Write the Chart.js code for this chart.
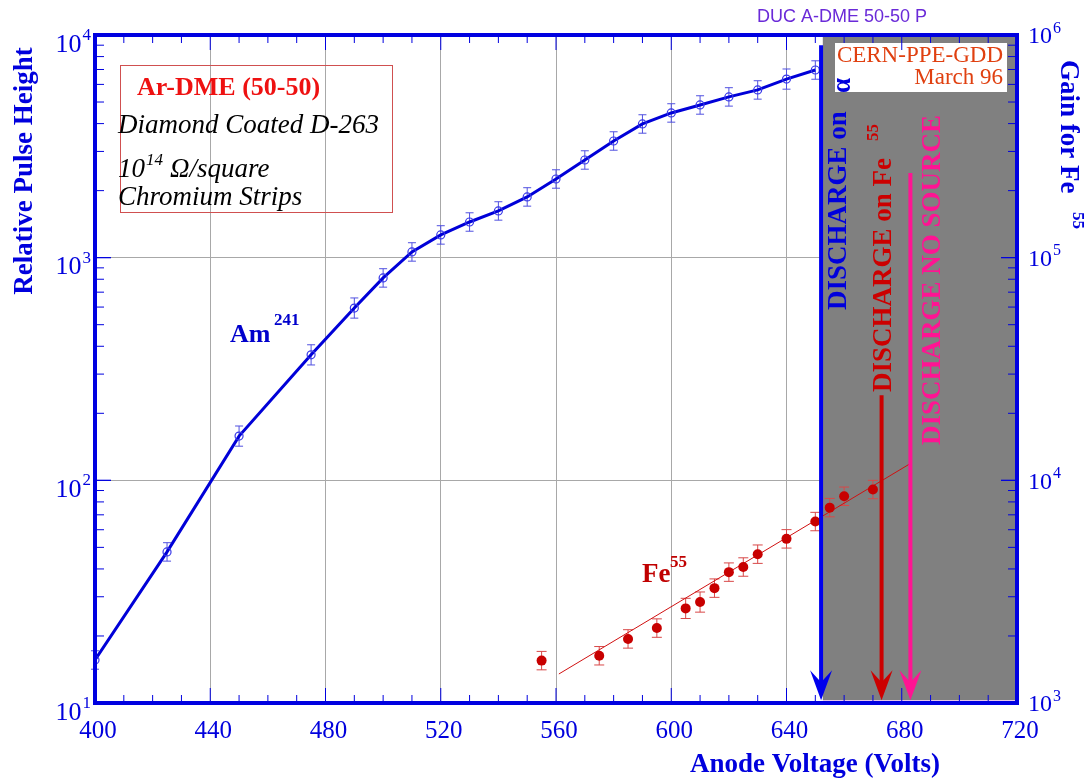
<!DOCTYPE html>
<html>
<head>
<meta charset="utf-8">
<script src="https://cdn.jsdelivr.net/npm/chart.js@4.4.1/dist/chart.umd.min.js"></script>
<style>
  body { margin: 0; background: #fff; }
  #wrap { width: 1088px; height: 778px; }
</style>
</head>
<body>
<div id="wrap"><canvas id="chart"></canvas></div>
<script>
// Am241 relative pulse height
const amVolts = [400, 425, 450, 475, 490, 500, 510, 520, 530, 540, 550, 560, 570, 580, 590, 600, 610, 620, 630, 640, 650];
const amHeight = [15.6, 47.7, 158, 366, 594, 811, 1061, 1265, 1446, 1621, 1874, 2256, 2746, 3342, 3985, 4466, 4850, 5272, 5666, 6339, 6962];
const amErr = [0.1, 0.1, 0.11, 0.11, 0.11, 0.1, 0.1, 0.1, 0.1, 0.1, 0.1, 0.1, 0.1, 0.1, 0.1, 0.1, 0.1, 0.1, 0.1, 0.11, 0.1]; // relative

// Fe55 points (same scale as left axis)
const feVolts = [555, 575, 585, 595, 605, 610, 615, 620, 625, 630, 640, 650, 655, 660, 670];
const feHeight = [15.5, 16.3, 19.4, 21.7, 26.6, 28.4, 32.8, 38.7, 40.8, 46.6, 54.6, 65.3, 75.4, 84.8, 90.9];
const feErr = [0.1, 0.1, 0.1, 0.1, 0.11, 0.11, 0.1, 0.1, 0.1, 0.1, 0.1, 0.1, 0.1, 0.1, 0.1];

// straight fit through Fe55
const fitVolts = [561, 683];
const fitHeight = [13.5, 119];

// axis labels
const xTicks = [400, 440, 480, 520, 560, 600, 640, 680, 720];
const yDecades = [10, 100, 1000, 10000];
const leftExp = ["1", "2", "3", "4"];
const rightExp = ["3", "4", "5", "6"];

// discharge arrows: alpha, Fe55, no source
const dischargeVolts = [652, 673, 683];
const dischargeTop = [9000, 241, 2400];
const dischargeTip = 10.3;
const grayFrom = 652.6;

const BLUE = "#0000dd";
const SERIF = "'Liberation Serif', 'Times New Roman', serif";

function pts(xs, ys) {
  return xs.map((v, i) => ({ x: v, y: ys[i] }));
}

function drawErrors(ctx, x, y, xs, ys, errs, color, cap) {
  ctx.strokeStyle = color;
  ctx.lineWidth = 1;
  xs.forEach((v, i) => {
    const px = x.getPixelForValue(v);
    const lo = y.getPixelForValue(ys[i] / (1 + errs[i]));
    const hi = y.getPixelForValue(ys[i] * (1 + errs[i]));
    ctx.beginPath();
    ctx.moveTo(px, lo); ctx.lineTo(px, hi);
    ctx.moveTo(px - cap, lo); ctx.lineTo(px + cap, lo);
    ctx.moveTo(px - cap, hi); ctx.lineTo(px + cap, hi);
    ctx.stroke();
  });
}

function rotText(ctx, text, x, y, angle, font, color, align) {
  ctx.save();
  ctx.translate(x, y);
  ctx.rotate(angle);
  ctx.font = font;
  ctx.fillStyle = color;
  ctx.textAlign = align;
  ctx.textBaseline = "middle";
  ctx.fillText(text, 0, 0);
  ctx.restore();
}

// "10" with exponent
function powLabel(ctx, exp, x, y, size, align) {
  ctx.font = size + "px " + SERIF;
  const w1 = ctx.measureText("10").width;
  ctx.font = Math.round(size * 0.65) + "px " + SERIF;
  const w2 = ctx.measureText(exp).width;
  const left = align === "right" ? x - w1 - w2 - 1 : x;
  ctx.textAlign = "left";
  ctx.textBaseline = "middle";
  ctx.fillStyle = BLUE;
  ctx.font = size + "px " + SERIF;
  ctx.fillText("10", left, y);
  ctx.font = Math.round(size * 0.65) + "px " + SERIF;
  ctx.fillText(exp, left + w1 + 1, y - size * 0.36);
}

function arrow(ctx, px, top, tip, color) {
  ctx.strokeStyle = color;
  ctx.fillStyle = color;
  ctx.lineWidth = 4;
  ctx.beginPath();
  ctx.moveTo(px, top);
  ctx.lineTo(px, tip - 16);
  ctx.stroke();
  ctx.beginPath();
  ctx.moveTo(px, tip);
  ctx.lineTo(px - 11, tip - 30);
  ctx.lineTo(px, tip - 18);
  ctx.lineTo(px + 11, tip - 30);
  ctx.closePath();
  ctx.fill();
}

const decor = {
  id: "decor",
  beforeDatasetsDraw(chart) {
    const { ctx, chartArea: a, scales: { x, y } } = chart;
    ctx.save();
    // discharge zone
    const gx = x.getPixelForValue(grayFrom);
    ctx.fillStyle = "#808080";
    ctx.fillRect(gx, a.top, a.right - gx, a.bottom - a.top - 3);
    ctx.fillStyle = "#e8c8e8";
    ctx.fillRect(gx, a.bottom - 3, a.right - gx, 1);
    drawErrors(ctx, x, y, amVolts, amHeight, amErr, "#5050e0", 4);
    drawErrors(ctx, x, y, feVolts, feHeight, feErr, "#d84848", 5);
    ctx.restore();
  },
  afterDatasetsDraw(chart) {
    const { ctx, chartArea: a, scales: { x, y } } = chart;
    ctx.save();

    // arrows
    const arrowColors = ["#0000ee", "#cc0000", "#ff1493"];
    dischargeVolts.forEach((v, i) => {
      arrow(ctx, x.getPixelForValue(v), y.getPixelForValue(dischargeTop[i]), y.getPixelForValue(dischargeTip), arrowColors[i]);
    });

    // CERN box
    ctx.fillStyle = "#fff";
    ctx.fillRect(835, 43, 172, 49);
    ctx.fillStyle = "#e04010";
    ctx.font = "23px " + SERIF;
    ctx.textAlign = "right";
    ctx.textBaseline = "alphabetic";
    ctx.fillText("CERN-PPE-GDD", 1003, 62);
    ctx.fillText("March 96", 1003, 84);

    // discharge texts
    const bfont = "bold 27px " + SERIF;
    rotText(ctx, "DISCHARGE on", 839, 310, -Math.PI / 2, bfont, "#0000dd", "left");
    rotText(ctx, "\u03b1", 843, 93, -Math.PI / 2, bfont, "#0000dd", "left");
    rotText(ctx, "DISCHARGE on Fe", 884, 392, -Math.PI / 2, bfont, "#cc0000", "left");
    rotText(ctx, "55", 874, 141, -Math.PI / 2, "bold 17px " + SERIF, "#cc0000", "left");
    rotText(ctx, "DISCHARGE NO SOURCE", 933, 445, -Math.PI / 2, bfont, "#ff1493", "left");

    // frame
    ctx.strokeStyle = "#0000e0";
    ctx.lineWidth = 4;
    ctx.strokeRect(a.left, a.top, a.right - a.left, a.bottom - a.top);

    // ticks
    ctx.lineWidth = 1;
    ctx.beginPath();
    for (let v = 400; v <= 720; v += 10) {
      const px = x.getPixelForValue(v);
      const len = v % 40 === 0 ? 15 : 8;
      ctx.moveTo(px, a.bottom); ctx.lineTo(px, a.bottom - len);
      ctx.moveTo(px, a.top); ctx.lineTo(px, a.top + len);
    }
    [10, 100, 1000].forEach((d) => {
      for (let m = 1; m <= 10; m++) {
        const py = y.getPixelForValue(d * m);
        const len = m === 1 || m === 10 ? 16 : 9;
        ctx.moveTo(a.left, py); ctx.lineTo(a.left + len, py);
        ctx.moveTo(a.right, py); ctx.lineTo(a.right - len, py);
      }
    });
    ctx.stroke();

    // tick labels
    ctx.fillStyle = BLUE;
    ctx.font = "25px " + SERIF;
    ctx.textAlign = "center";
    ctx.textBaseline = "middle";
    xTicks.forEach((v) => ctx.fillText(String(v), x.getPixelForValue(v) + 3, 731));
    yDecades.forEach((d, i) => {
      const py = y.getPixelForValue(d);
      powLabel(ctx, leftExp[i], 91, py + 10, 26, "right");
      powLabel(ctx, rightExp[i], 1028, py + 2, 24, "left");
    });

    // axis titles
    rotText(ctx, "Relative Pulse Height", 25, 171, -Math.PI / 2, bfont, BLUE, "center");
    rotText(ctx, "Gain for Fe", 1068, 60, Math.PI / 2, bfont, BLUE, "left");
    rotText(ctx, "55", 1077, 212, Math.PI / 2, "bold 17px " + SERIF, BLUE, "left");
    ctx.font = bfont;
    ctx.textAlign = "right";
    ctx.textBaseline = "alphabetic";
    ctx.fillStyle = BLUE;
    ctx.fillText("Anode Voltage (Volts)", 940, 772);

    // top label
    ctx.font = "18px 'Liberation Sans', Arial, sans-serif";
    ctx.fillStyle = "#6a2ad8";
    ctx.textAlign = "left";
    ctx.fillText("DUC A-DME 50-50 P", 757, 22);

    // curve labels
    ctx.font = "bold 26px " + SERIF;
    ctx.fillStyle = "#0000cc";
    ctx.fillText("Am", 230, 342);
    ctx.font = "bold 17px " + SERIF;
    ctx.fillText("241", 274, 325);
    ctx.font = "bold 27px " + SERIF;
    ctx.fillStyle = "#c00000";
    ctx.fillText("Fe", 642, 582);
    ctx.font = "bold 17px " + SERIF;
    ctx.fillText("55", 670, 567);

    // info box
    ctx.strokeStyle = "#d05050";
    ctx.lineWidth = 1;
    ctx.strokeRect(120.5, 65.5, 272, 147);
    ctx.fillStyle = "#ee1111";
    ctx.font = "bold 26px " + SERIF;
    ctx.fillText("Ar-DME (50-50)", 137, 95);
    ctx.fillStyle = "#000";
    ctx.font = "italic 27px " + SERIF;
    ctx.fillText("Diamond Coated D-263", 118, 133);
    ctx.fillText("10", 118, 177);
    const w10 = ctx.measureText("10").width;
    ctx.fillText("\u03a9/square", 170, 177);
    ctx.fillText("Chromium Strips", 118, 205);
    ctx.font = "italic 17px " + SERIF;
    ctx.fillText("14", 118 + w10 + 1, 165);

    ctx.restore();
  }
};

const ctx = document.getElementById("chart").getContext("2d");
new Chart(ctx, {
  type: "line",
  data: {
    datasets: [
      {
        label: "Am241",
        data: pts(amVolts, amHeight),
        borderColor: "#0000d8",
        borderWidth: 3,
        tension: 0,
        pointRadius: 4,
        pointBorderWidth: 1.2,
        pointBorderColor: "#3838e8",
        pointBackgroundColor: "rgba(255,255,255,0)"
      },
      {
        label: "Fe55",
        data: pts(feVolts, feHeight),
        showLine: false,
        pointRadius: 5,
        pointBorderWidth: 0,
        pointBackgroundColor: "#c80000",
        pointBorderColor: "#c80000"
      },
      {
        label: "Fe55 fit",
        data: pts(fitVolts, fitHeight),
        borderColor: "#d01010",
        borderWidth: 1,
        pointRadius: 0
      }
    ]
  },
  options: {
    responsive: true,
    maintainAspectRatio: false,
    animation: false,
    layout: { padding: { left: 95, right: 71, top: 35, bottom: 75 } },
    plugins: { legend: { display: false }, tooltip: { enabled: false } },
    scales: {
      x: {
        type: "linear",
        min: 400,
        max: 720,
        ticks: { display: false, stepSize: 40 },
        grid: { color: "#a8a8a8", drawTicks: false },
        border: { display: false },
        afterFit: (s) => { s.height = 0; }
      },
      y: {
        type: "logarithmic",
        min: 10,
        max: 10000,
        ticks: { display: false },
        grid: {
          color: (c) => {
            const l = Math.log10(c.tick.value);
            return Math.abs(l - Math.round(l)) < 1e-6 ? "#a8a8a8" : "rgba(0,0,0,0)";
          },
          drawTicks: false
        },
        border: { display: false },
        afterFit: (s) => { s.width = 0; }
      }
    }
  },
  plugins: [decor]
});
</script>
</body>
</html>
